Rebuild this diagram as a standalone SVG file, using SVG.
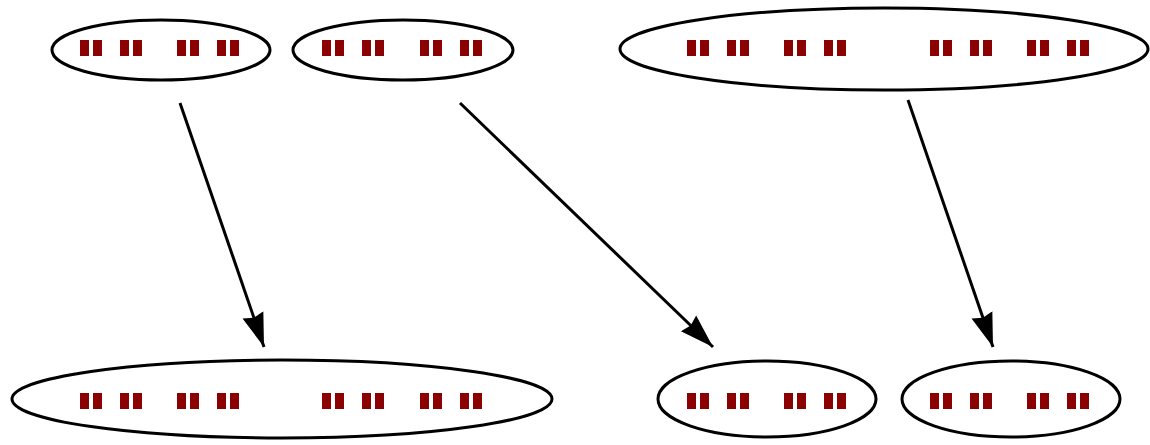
<svg xmlns="http://www.w3.org/2000/svg" xmlns:xlink="http://www.w3.org/1999/xlink" width="1150" height="445" viewBox="0 0 1150 445">
  <style>
    .node { fill: #ffffff; stroke: #000000; stroke-width: 3; }
    .glyph { fill: #8b0000; }
    .edge { stroke: #000000; stroke-width: 3; fill: none; }
  </style>
  <defs>
    <!-- one label word: two pairs of missing-glyph boxes -->
    <g id="word">
      <rect class="glyph" x="0" y="0" width="9" height="16"/>
      <rect class="glyph" x="13" y="0" width="9" height="16"/>
      <rect class="glyph" x="40" y="0" width="9" height="16"/>
      <rect class="glyph" x="53" y="0" width="9" height="16"/>
    </g>
    <marker id="arrow" markerUnits="userSpaceOnUse" markerWidth="36" markerHeight="26" viewBox="0 0 36 26" refX="34" refY="13" orient="auto">
      <path d="M0,2 L34,13 L0,24 L3,13 Z" fill="#000000"/>
    </marker>
  </defs>
  <rect x="0" y="0" width="1150" height="445" fill="#ffffff"/>

  <g id="connectors">
    <line class="edge" x1="180" y1="103" x2="264" y2="347" marker-end="url(#arrow)"/>
    <line class="edge" x1="460" y1="103" x2="713" y2="347" marker-end="url(#arrow)"/>
    <line class="edge" x1="908" y1="100" x2="993" y2="347" marker-end="url(#arrow)"/>
  </g>

  <g id="node-top-1">
    <ellipse class="node" cx="161" cy="50" rx="109" ry="30"/>
    <use xlink:href="#word" x="80" y="40"/>
    <use xlink:href="#word" x="177" y="40"/>
  </g>

  <g id="node-top-2">
    <ellipse class="node" cx="403" cy="50" rx="110" ry="30"/>
    <use xlink:href="#word" x="322" y="40"/>
    <use xlink:href="#word" x="420" y="40"/>
  </g>

  <g id="node-top-3">
    <ellipse class="node" cx="884" cy="49" rx="264" ry="41"/>
    <use xlink:href="#word" x="687" y="40"/>
    <use xlink:href="#word" x="784" y="40"/>
    <use xlink:href="#word" x="930" y="40"/>
    <use xlink:href="#word" x="1027" y="40"/>
  </g>

  <g id="node-bottom-1">
    <ellipse class="node" cx="282" cy="399" rx="270" ry="39"/>
    <use xlink:href="#word" x="80" y="393"/>
    <use xlink:href="#word" x="177" y="393"/>
    <use xlink:href="#word" x="322" y="393"/>
    <use xlink:href="#word" x="420" y="393"/>
  </g>

  <g id="node-bottom-2">
    <ellipse class="node" cx="767" cy="399" rx="109" ry="38"/>
    <use xlink:href="#word" x="687" y="393"/>
    <use xlink:href="#word" x="784" y="393"/>
  </g>

  <g id="node-bottom-3">
    <ellipse class="node" cx="1011" cy="399" rx="109" ry="38"/>
    <use xlink:href="#word" x="930" y="393"/>
    <use xlink:href="#word" x="1027" y="393"/>
  </g>
</svg>
